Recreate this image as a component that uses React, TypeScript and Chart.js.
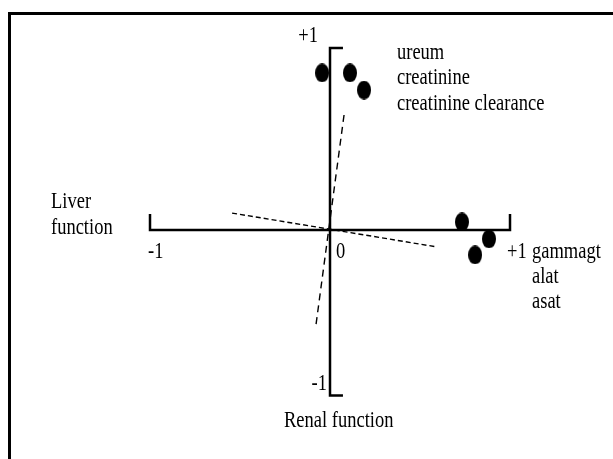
import React, { useEffect, useRef } from "react";
import { Chart, registerables } from "chart.js";

Chart.register(...registerables);

// ---- data ----
const renalVariables = ["ureum", "creatinine", "creatinine clearance"];
const liverVariables = ["gammagt", "alat", "asat"];
const renalLoadingsX = [-0.044, 0.111, 0.189];
const renalLoadingsY = [0.863, 0.863, 0.769];
const liverLoadingsX = [0.733, 0.883, 0.806];
const liverLoadingsY = [0.044, -0.049, -0.137];
const rotatedAxis1X = [0.078, -0.078];
const rotatedAxis1Y = [0.632, -0.522];
const rotatedAxis2X = [-0.544, 0.594];
const rotatedAxis2Y = [0.093, -0.093];
const liverAxisEnds = [-1, 1];
const renalAxisEnds = [1, -0.91];
const xTickLabels = ["-1", "0", "+1"];
const yTickLabels = ["+1", "-1"];
const liverTitle = ["Liver", "function"];
const renalTitle = "Renal function";

const W = 613;
const H = 459;
const FONT = '18.5px "Liberation Serif", "Times New Roman", serif';
const STRETCH = 1.2;

function makeDot(): HTMLCanvasElement {
  const c = document.createElement("canvas");
  c.width = 14;
  c.height = 19;
  const g = c.getContext("2d")!;
  g.fillStyle = "#000";
  g.beginPath();
  g.ellipse(7, 9.5, 7, 9.5, 0, 0, Math.PI * 2);
  g.fill();
  return c;
}

function text(ctx: CanvasRenderingContext2D, t: string, x: number, y: number, align: CanvasTextAlign) {
  ctx.save();
  ctx.translate(x, y);
  ctx.scale(1, STRETCH);
  ctx.textAlign = align;
  ctx.fillText(t, 0, 0);
  ctx.restore();
}

const decorPlugin = {
  id: "decor",
  afterDatasetsDraw(chart: any) {
    const ctx = chart.ctx as CanvasRenderingContext2D;
    const xs = chart.scales.x;
    const ys = chart.scales.y;
    const ox = xs.getPixelForValue(0);
    const oy = ys.getPixelForValue(0);
    const xL = xs.getPixelForValue(liverAxisEnds[0]);
    const xR = xs.getPixelForValue(liverAxisEnds[1]);
    const yT = ys.getPixelForValue(renalAxisEnds[0]);
    const yB = ys.getPixelForValue(renalAxisEnds[1]);
    ctx.save();
    // frame (top and left edges)
    ctx.fillStyle = "#000";
    ctx.fillRect(8, 12, W - 8, 3);
    ctx.fillRect(8, 12, 3, H - 12);
    ctx.font = FONT;
    ctx.textBaseline = "middle";
    // x tick labels
    text(ctx, xTickLabels[0], xL - 2, oy + 22, "left");
    text(ctx, xTickLabels[1], ox + 6, oy + 22, "left");
    text(ctx, xTickLabels[2], xR - 3, oy + 22, "left");
    // liver variables
    liverVariables.forEach((t, i) => text(ctx, t, xR + 22, oy + 22 + i * 25, "left"));
    // renal variables
    renalVariables.forEach((t, i) => text(ctx, t, ox + 67, yT + 5 + i * 25.5, "left"));
    // liver title
    liverTitle.forEach((t, i) => text(ctx, t, xL - 99, oy - 28 + i * 26, "left"));
    // renal title
    text(ctx, renalTitle, ox - 46, yB + 26, "left");
    // y tick labels
    text(ctx, yTickLabels[0], ox - 12, yT - 12, "right");
    text(ctx, yTickLabels[1], ox - 3, yB - 11, "right");
    ctx.restore();
  },
};

export default function App() {
  const ref = useRef<HTMLCanvasElement | null>(null);
  useEffect(() => {
    if (!ref.current) return;
    const dot = makeDot();
    const capH = 0.088;
    const capW = 0.072;
    const liverAxis = [
      { x: liverAxisEnds[0], y: capH },
      { x: liverAxisEnds[0], y: 0 },
      { x: liverAxisEnds[1], y: 0 },
      { x: liverAxisEnds[1], y: capH },
    ];
    const renalAxis = [
      { x: capW, y: renalAxisEnds[0] },
      { x: 0, y: renalAxisEnds[0] },
      { x: 0, y: renalAxisEnds[1] },
      { x: capW, y: renalAxisEnds[1] },
    ];
    const lineBase = {
      showLine: true,
      pointRadius: 0,
      borderColor: "#000",
      fill: false,
      tension: 0,
      clip: false as const,
    };
    const chart = new Chart(ref.current, {
      type: "scatter",
      data: {
        datasets: [
          { ...lineBase, label: "liver axis", data: liverAxis, borderWidth: 2.5 },
          { ...lineBase, label: "renal axis", data: renalAxis, borderWidth: 2.5 },
          {
            ...lineBase,
            label: "rotated 1",
            data: rotatedAxis1X.map((x, i) => ({ x, y: rotatedAxis1Y[i] })),
            borderWidth: 1.4,
            borderDash: [7, 5],
          },
          {
            ...lineBase,
            label: "rotated 2",
            data: rotatedAxis2X.map((x, i) => ({ x, y: rotatedAxis2Y[i] })),
            borderWidth: 1.4,
            borderDash: [5, 3],
          },
          {
            label: "renal",
            data: renalLoadingsX.map((x, i) => ({ x, y: renalLoadingsY[i] })),
            pointStyle: dot,
            backgroundColor: "#000",
            borderColor: "#000",
            clip: false,
          },
          {
            label: "liver",
            data: liverLoadingsX.map((x, i) => ({ x, y: liverLoadingsY[i] })),
            pointStyle: dot,
            backgroundColor: "#000",
            borderColor: "#000",
            clip: false,
          },
        ] as any,
      },
      options: {
        animation: false,
        responsive: false,
        devicePixelRatio: 1,
        layout: { padding: { left: 150, right: W - 510, top: 48, bottom: H - 412 } },
        scales: {
          x: { type: "linear", min: -1, max: 1, display: false },
          y: { type: "linear", min: -1, max: 1, display: false },
        },
        plugins: { legend: { display: false }, tooltip: { enabled: false } },
      },
      plugins: [decorPlugin],
    });
    return () => chart.destroy();
  }, []);
  return (
    <canvas
      ref={ref}
      width={W}
      height={H}
      style={{ position: "absolute", left: 0, top: 0, width: W, height: H }}
    />
  );
}
